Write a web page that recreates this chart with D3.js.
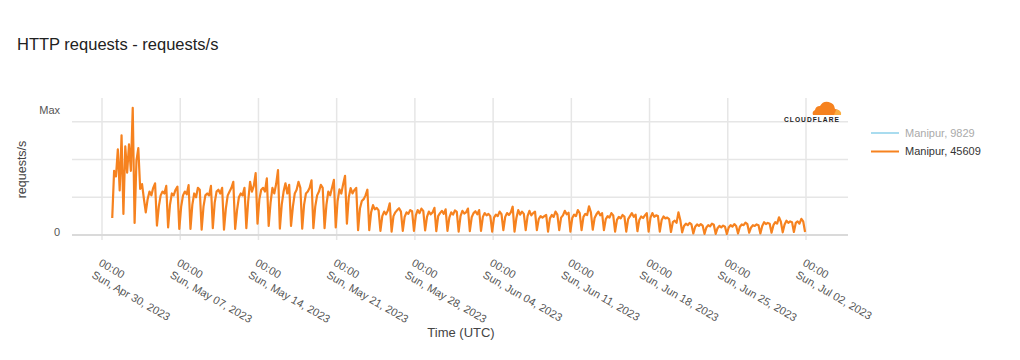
<!DOCTYPE html>
<html>
<head>
<meta charset="utf-8">
<script src="https://cdn.jsdelivr.net/npm/d3@7"></script>
<style>
  body{margin:0;background:#fff;font-family:"Liberation Sans",Arial,Helvetica,sans-serif;}
</style>
</head>
<body>
<svg id="chart" width="1020" height="360"></svg>
<script>
/* ---------- data (relative requests/s, 4-hour samples) ---------- */
const startTime = "2023-04-30T22:00:00Z";
const stepHours = 4;

// May 1 - May 7 (first value = Apr 30 22:00)
const wk1 = [4.5,
  17.0, 15.5, 22.7, 11.8, 26.4, 5.6,
  23.5, 16.5, 24.0, 17.0, 33.7, 3.2,
  19.7, 23.0, 12.2, 13.5, 9.6, 6.0,
  9.5, 11.5, 10.5, 12.5, 13.7, 2.5,
  7.5, 10.5, 11.5, 11.0, 13.0, 2.0,
  8.0, 11.0, 10.5, 12.0, 12.8, 1.6,
  7.5, 10.5, 11.5, 10.8, 13.2, 1.6];
// May 8 - May 14
const wk2 = [
  8.0, 11.0, 10.0, 12.5, 12.0, 1.4,
  7.5, 10.5, 11.0, 10.5, 13.0, 1.8,
  8.5, 11.5, 12.0, 11.0, 12.5, 1.4,
  7.0, 10.5, 11.5, 12.5, 14.1, 1.6,
  6.5, 10.0, 11.0, 10.5, 12.5, 1.8,
  9.0, 14.1, 11.5, 13.0, 16.4, 3.0,
  9.5, 12.0, 12.5, 11.5, 15.0, 2.4];
// May 15 - May 21
const wk3 = [
  8.5, 12.5, 11.0, 13.5, 17.2, 1.7,
  8.0, 11.5, 13.7, 11.0, 13.3, 2.4,
  7.5, 11.0, 12.0, 14.1, 12.5, 1.7,
  8.0, 11.0, 11.5, 12.5, 14.5, 1.8,
  7.5, 10.5, 11.5, 13.3, 12.5, 1.8,
  8.0, 11.5, 10.5, 12.5, 14.6, 2.0,
  9.0, 12.1, 11.0, 13.5, 15.7, 3.0];
// May 22 - May 28
const wk4 = [
  10.0, 12.4, 11.0, 11.9, 12.5, 1.3,
  7.0, 9.0, 9.5, 10.5, 12.0, 1.3,
  6.0, 7.9, 6.8, 7.2, 6.5, 1.1,
  5.0, 6.2, 5.5, 6.5, 8.4, 0.9,
  5.0, 6.0, 6.6, 7.1, 6.2, 1.1,
  4.8, 6.0, 5.6, 6.6, 6.3, 1.1,
  5.2, 6.6, 5.8, 7.0, 6.4, 1.2];
// May 29 - Jun 4
const wk5 = [
  4.8, 6.2, 5.5, 6.0, 7.2, 1.0,
  5.0, 5.8, 6.4, 5.6, 6.8, 1.1,
  4.6, 6.0, 5.4, 6.5, 6.1, 0.9,
  5.0, 6.4, 5.7, 6.0, 7.0, 1.0,
  4.7, 5.8, 6.3, 5.5, 6.6, 1.1,
  4.8, 5.8, 5.2, 5.6, 5.0, 0.9,
  4.6, 5.4, 5.0, 6.2, 5.5, 1.3];
// Jun 5 - Jun 11
const wk6 = [
  4.8, 5.8, 5.3, 6.0, 7.5, 0.9,
  4.5, 6.6, 5.4, 6.2, 5.6, 1.3,
  5.0, 6.4, 5.2, 5.8, 6.2, 1.3,
  4.2, 5.0, 4.6, 5.0, 5.3, 0.9,
  4.4, 5.3, 4.8, 6.2, 5.4, 1.3,
  4.6, 5.2, 6.4, 5.5, 5.9, 0.9,
  4.5, 5.4, 5.0, 6.6, 5.8, 1.3];
// Jun 12 - Jun 18
const wk7 = [
  4.8, 5.6, 5.3, 7.6, 6.0, 1.4,
  4.5, 5.5, 6.2, 5.2, 5.8, 1.3,
  4.2, 5.0, 4.6, 5.8, 5.2, 0.9,
  4.0, 4.8, 4.4, 5.3, 4.9, 0.9,
  4.2, 5.0, 5.8, 4.8, 5.4, 1.0,
  4.0, 4.9, 4.5, 5.2, 5.8, 0.9,
  4.6, 5.8, 4.8, 5.2, 5.0, 0.9];
// Jun 19 - Jun 25
const wk8 = [
  4.0, 4.9, 4.4, 4.6, 4.2, 0.8,
  3.4, 3.8, 3.2, 6.0, 4.0, 0.7,
  2.4, 3.0, 2.6, 3.2, 2.8, 0.4,
  2.2, 2.8, 2.4, 2.9, 2.5, 0.3,
  2.0, 2.6, 2.3, 3.0, 2.7, 0.3,
  1.8, 2.4, 2.0, 2.5, 2.2, 0.3,
  2.0, 2.6, 2.2, 2.9, 2.4, 0.4];
// Jun 26 - Jul 1
const wk9 = [
  2.2, 2.8, 2.6, 3.3, 2.9, 0.6,
  2.0, 2.6, 2.4, 2.8, 2.6, 0.4,
  2.4, 3.4, 2.9, 3.2, 3.0, 0.6,
  2.6, 3.4, 3.0, 4.7, 3.5, 0.7,
  2.8, 3.8, 3.2, 3.6, 3.4, 0.8,
  3.2, 3.6, 3.0, 4.3, 3.6, 0.8];

const tickDays = ["2023-04-30","2023-05-07","2023-05-14","2023-05-21","2023-05-28",
                  "2023-06-04","2023-06-11","2023-06-18","2023-06-25","2023-07-02"];
const gridValues = [10, 20, 30];
const legendLabels = ["Manipur, 9829", "Manipur, 45609"];
const legendColors = ["#a9dcef", "#f6821f"];
const legendText   = ["#aaaaaa", "#333333"];

/* ---------- build ---------- */
const values = [].concat(wk1, wk2, wk3, wk4, wk5, wk6, wk7, wk8, wk9);
const t0 = new Date(startTime).getTime();
const series = values.map((v,i)=>({t:new Date(t0 + i*stepHours*3600e3), v}));
const ticks = tickDays.map(d=>new Date(d+"T00:00:00Z"));

const F = {left:72, right:848, top:98, bottom:235};
const svg = d3.select("#chart");

const x = d3.scaleUtc().domain([ticks[0], ticks[ticks.length-1]]).range([102, 806]);
const y = d3.scaleLinear().domain([0, 36.3]).range([F.bottom, F.top]);

/* title */
svg.append("text").attr("x",17).attr("y",50)
   .attr("font-size",16.5).attr("fill","#222").text("HTTP requests - requests/s");

/* grid */
svg.append("g").selectAll("line").data(ticks).join("line")
   .attr("x1",d=>x(d)).attr("x2",d=>x(d))
   .attr("y1",F.top).attr("y2",F.bottom+5)
   .attr("stroke","#e6e6e6").attr("stroke-width",1.5);

svg.append("g").selectAll("line").data(gridValues).join("line")
   .attr("x1",F.left).attr("x2",F.right)
   .attr("y1",d=>y(d)).attr("y2",d=>y(d))
   .attr("stroke","#e6e6e6").attr("stroke-width",1.5);

svg.append("line").attr("x1",F.left).attr("x2",F.right)
   .attr("y1",y(0)).attr("y2",y(0))
   .attr("stroke","#dadada").attr("stroke-width",2);

/* y labels */
const maxV = d3.max(values);
svg.append("text").attr("x",60).attr("y",y(maxV)).attr("dy","0.55em")
   .attr("text-anchor","end").attr("font-size",11).attr("fill","#555").text("Max");
svg.append("text").attr("x",60).attr("y",y(0)).attr("dy","0.1em")
   .attr("text-anchor","end").attr("font-size",11).attr("fill","#555").text("0");

svg.append("text")
   .attr("transform",`translate(26,${(F.top+F.bottom)/2+3}) rotate(-90)`)
   .attr("text-anchor","middle").attr("font-size",12.5).attr("fill","#444")
   .text("requests/s");

/* x labels */
const fTime = d3.utcFormat("%H:%M"), fDate = d3.utcFormat("%a, %b %d, %Y");
const xl = svg.append("g").selectAll("g").data(ticks).join("g")
   .attr("transform",d=>`translate(${x(d)-4},265) rotate(30)`)
   .attr("font-size",11).attr("fill","#555");
xl.append("text").attr("x",0).attr("y",0).text(fTime);
xl.append("text").attr("x",0).attr("y",14).text(fDate);

svg.append("text").attr("x",(F.left+F.right)/2+1).attr("y",337)
   .attr("text-anchor","middle").attr("font-size",13).attr("fill","#444")
   .text("Time (UTC)");

/* line */
const line = d3.line().x(d=>x(d.t)).y(d=>y(d.v));
svg.append("path").datum(series).attr("d",line)
   .attr("fill","none").attr("stroke","#f6821f").attr("stroke-width",2.2)
   .attr("stroke-linejoin","round");

/* cloudflare logo */
const logo = svg.append("g").attr("transform","translate(784,100)");
logo.append("path")
   .attr("d","M29,15 L56,15 A5,5 0 0 0 51,9 A8,8 0 0 0 36,6 A5,5 0 0 0 31,10 A4,4 0 0 0 29,15 Z")
   .attr("fill","#f6821f");
logo.append("path")
   .attr("d","M50,15 L57,15 A4,4 0 0 0 52,10 Z").attr("fill","#fbad41");
logo.append("text").attr("x",0).attr("y",21.5)
   .attr("font-size",6.6).attr("font-weight","bold").attr("letter-spacing",1.05)
   .attr("fill","#222").text("CLOUDFLARE");

/* legend */
const lg = svg.append("g").selectAll("g").data(legendLabels).join("g")
   .attr("transform",(d,i)=>`translate(871,${133+i*18.5})`);
lg.append("line").attr("x1",0).attr("x2",28)
   .attr("stroke",(d,i)=>legendColors[i]).attr("stroke-width",2);
lg.append("text").attr("x",34).attr("dy","0.35em").attr("font-size",11)
   .attr("fill",(d,i)=>legendText[i]).text(d=>d);
</script>
</body>
</html>
